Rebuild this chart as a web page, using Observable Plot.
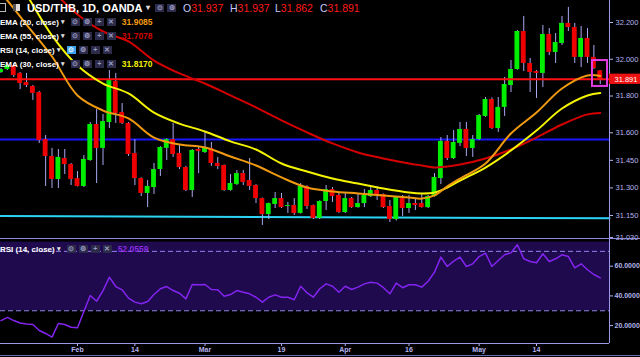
<!DOCTYPE html>
<html><head><meta charset="utf-8">
<script src="https://cdn.jsdelivr.net/npm/d3@7"></script>
<script src="https://cdn.jsdelivr.net/npm/@observablehq/plot@0.6"></script>
<style>
html,body{margin:0;padding:0;background:#000;}
#wrap{position:relative;width:640px;height:357px;overflow:hidden;background:#000;font-family:"Liberation Sans",Arial,sans-serif;}
#main,#rsi{position:absolute;left:0;}
#main{top:0;}#rsi{top:238px;}
#main svg{overflow:visible;}
#rsi text{font-weight:bold;}
.hl{position:absolute;left:0;width:640px;height:1px;background:#8c8cdc;}
.row{position:absolute;left:0;display:flex;align-items:center;height:10px;white-space:nowrap;color:#fff;font-size:8px;font-weight:bold;}
.car{margin-left:2px;font-size:7px;color:#ddd;}
.ic{display:inline-block;width:9px;height:8px;background:#2c2c4a;color:#9a9ac0;font-size:7px;line-height:8px;text-align:center;margin-left:3px;font-weight:bold;}
.ic.first{margin-left:6px;}
.ic.on{background:#3aa0f0;color:#fff;}
.val{margin-left:6px;font-weight:bold;font-size:8.5px;}
.t{position:absolute;top:1px;height:13px;display:flex;align-items:center;white-space:nowrap;font-size:10.5px;}
</style></head>
<body>
<div id="wrap">
  <div id="main"></div>
  <div id="rsi"></div>
  <div class="hl" style="top:238px"></div>
  <div class="hl" style="top:355px;background:#6a6ab0"></div>

  <div class="t" style="left:0;"><span style="display:inline-block;width:5px;height:7px;border:1px solid #bbb;border-left:none;"></span></div>
  <div class="t" style="left:13px;"><span style="display:inline-block;width:7px;height:7px;background:#ddd;border-left:3px solid #555;box-sizing:border-box;"></span></div>
  <div class="t" style="left:27px;color:#fff;font-weight:bold;font-size:11px;">USD/THB, 1D, OANDA<span class="car" style="font-size:8px;margin-left:3px">▾</span></div>
  <div class="t" style="left:155px;"><span class="ic" style="margin-left:0">⊙</span><span class="ic">⚙</span></div>
  <div class="t" style="left:183px;"><span style="color:#c8c8ff">O</span><span style="color:#ff1a1a">31.937</span></div>
  <div class="t" style="left:230px;"><span style="color:#c8c8ff">H</span><span style="color:#ff1a1a">31.937</span></div>
  <div class="t" style="left:275px;"><span style="color:#c8c8ff">L</span><span style="color:#ff1a1a">31.862</span></div>
  <div class="t" style="left:320px;"><span style="color:#c8c8ff">C</span><span style="color:#ff1a1a">31.891</span></div>

  <div class="row" style="top:17px">EMA (20, close)<span class="car">▾</span><span class="ic first">⊙</span><span class="ic">⚙</span><span class="ic">+</span><span class="ic">✕</span><span class="val" style="color:#f49c10">31.9085</span></div>
  <div class="row" style="top:31px">EMA (55, close)<span class="car">▾</span><span class="ic first">⊙</span><span class="ic">⚙</span><span class="ic">+</span><span class="ic">✕</span><span class="val" style="color:#d00000">31.7078</span></div>
  <div class="row" style="top:45px">RSI (14, close)<span class="car">▾</span><span class="ic first on">⊙</span><span class="ic">⚙</span><span class="ic">+</span><span class="ic">✕</span></div>
  <div class="row" style="top:59px">EMA (30, close)<span class="car">▾</span><span class="ic first">⊙</span><span class="ic">⚙</span><span class="ic">+</span><span class="ic">✕</span><span class="val" style="color:#f0f000">31.8170</span></div>

  <div class="row" style="top:244px">RSI (14, close)<span class="car">▾</span><span class="ic first">⊙</span><span class="ic">⚙</span><span class="ic">+</span><span class="ic">✕</span><span class="val" style="color:#8a2be2">52.0559</span></div>
</div>
<script>
// ---- data (trading-day index 0 = 16 Jan 2018 ... 94 = 28 May 2018) ----
const open  = [31.928,31.944,31.966,31.923,31.874,31.852,31.819,31.563,31.471,31.346,31.460,31.427,31.351,31.308,31.449,31.645,31.515,31.656,31.879,31.710,31.651,31.487,31.351,31.270,31.302,31.400,31.515,31.563,31.487,31.411,31.286,31.509,31.493,31.515,31.433,31.422,31.286,31.319,31.378,31.340,31.313,31.242,31.155,31.210,31.242,31.199,31.204,31.161,31.308,31.204,31.134,31.226,31.291,31.259,31.166,31.242,31.193,31.215,31.253,31.286,31.264,31.199,31.128,31.242,31.188,31.215,31.215,31.193,31.253,31.351,31.553,31.460,31.542,31.618,31.515,31.563,31.689,31.781,31.623,31.738,31.857,31.944,32.151,31.977,31.933,31.923,32.135,32.037,32.086,32.195,32.173,32.010,32.113,32.010,31.937];
const high  = [31.950,31.972,31.977,31.928,31.923,31.857,31.825,31.585,31.515,31.509,31.509,31.433,31.389,31.476,31.656,31.727,31.700,31.939,31.923,31.759,31.656,31.563,31.355,31.340,31.433,31.525,31.568,31.651,31.531,31.417,31.509,31.520,31.602,31.547,31.466,31.425,31.373,31.395,31.395,31.460,31.318,31.245,31.218,31.275,31.270,31.221,31.242,31.324,31.312,31.207,31.230,31.313,31.302,31.270,31.270,31.248,31.270,31.291,31.302,31.308,31.267,31.232,31.252,31.259,31.259,31.242,31.270,31.259,31.378,31.574,31.585,31.612,31.656,31.656,31.585,31.700,31.792,31.790,31.792,31.901,31.993,32.156,32.233,32.004,31.939,32.184,32.167,32.140,32.233,32.282,32.195,32.178,32.167,32.075,31.937];
const low   = [31.923,31.939,31.901,31.835,31.846,31.776,31.542,31.308,31.297,31.297,31.373,31.313,31.305,31.302,31.445,31.324,31.422,31.623,31.651,31.645,31.471,31.313,31.253,31.193,31.264,31.362,31.449,31.466,31.400,31.280,31.248,31.378,31.487,31.417,31.400,31.281,31.282,31.313,31.313,31.286,31.215,31.096,31.128,31.188,31.188,31.161,31.150,31.158,31.183,31.128,31.128,31.177,31.221,31.161,31.161,31.188,31.190,31.193,31.248,31.232,31.188,31.112,31.120,31.145,31.161,31.177,31.190,31.188,31.250,31.318,31.449,31.455,31.525,31.471,31.466,31.558,31.684,31.618,31.602,31.689,31.819,31.940,31.933,31.819,31.787,31.846,32.020,31.977,32.075,32.151,31.977,31.955,31.977,31.944,31.862];
const close = [31.944,31.966,31.912,31.868,31.857,31.814,31.558,31.471,31.346,31.466,31.427,31.346,31.308,31.455,31.645,31.515,31.661,31.885,31.705,31.651,31.482,31.351,31.270,31.308,31.400,31.520,31.563,31.482,31.411,31.286,31.504,31.498,31.515,31.433,31.417,31.286,31.324,31.378,31.330,31.308,31.242,31.155,31.215,31.242,31.193,31.204,31.161,31.308,31.199,31.134,31.226,31.291,31.253,31.166,31.242,31.193,31.215,31.259,31.286,31.259,31.193,31.128,31.248,31.188,31.215,31.204,31.193,31.253,31.357,31.553,31.460,31.547,31.618,31.515,31.563,31.694,31.781,31.623,31.738,31.863,31.944,32.151,31.977,31.928,31.923,32.135,32.037,32.091,32.195,32.173,32.010,32.113,32.010,31.950,31.891];

const emaIdx = [0,4,8,12,16,20,24,28,32,36,40,44,48,52,56,60,64,66,68,70,72,76,80,84,88,92,94];
const ema20  = [32.363,32.189,32.015,31.803,31.721,31.678,31.574,31.536,31.520,31.471,31.422,31.357,31.302,31.281,31.270,31.259,31.248,31.242,31.259,31.308,31.351,31.433,31.596,31.710,31.841,31.912,31.909];
const ema30  = [32.565,32.352,32.129,31.966,31.868,31.814,31.710,31.650,31.607,31.553,31.509,31.433,31.389,31.351,31.324,31.297,31.275,31.270,31.275,31.302,31.340,31.411,31.504,31.612,31.732,31.803,31.817];
const ema55  = [32.630,32.510,32.374,32.244,32.151,32.097,31.993,31.923,31.868,31.803,31.738,31.667,31.602,31.542,31.493,31.460,31.433,31.422,31.411,31.417,31.427,31.460,31.509,31.574,31.645,31.700,31.708];

const rsi = [23.4,25.5,23.4,21.8,21.1,20.7,16.7,14.7,12.2,21.4,20.7,18.9,18.5,29.5,40.3,36.4,43.6,52.6,46.3,44.1,38.5,35.8,34.7,36.2,40.9,44.8,46.3,43.6,41.8,38.0,47.7,47.5,47.7,44.3,44.1,39.8,40.9,43.6,42.5,41.4,39.1,35.8,39.1,40.7,39.1,39.1,37.4,46.5,42.1,39.1,44.8,48.1,46.5,42.5,46.5,44.3,45.9,48.1,49.2,48.6,45.5,41.4,48.6,45.5,47.5,47.5,45.9,49.9,56.0,66.1,59.8,63.4,66.1,59.8,61.6,66.5,68.8,59.8,63.8,67.7,69.0,74.4,65.0,63.2,62.3,68.4,63.2,65.0,67.7,66.5,58.9,61.6,57.6,54.4,52.1];

const blueLevel = 31.563;          // horizontal line
const cyanLevels = [31.147, 31.135]; // support line, left/right end
const priceTicks = [32.2, 32.0, 31.8, 31.6, 31.45, 31.3, 31.15, 31.03];
const rsiTicks = [20, 40, 60];
const rsiBands = [70, 30];
const tickIdx = [12, 21, 32, 44, 54, 64, 75, 84];
const tickLabels = ["Feb", "14", "Mar", "19", "Apr", "16", "May", "14"];

// ---- build ----
const candles = open.map((o, i) => ({i, o, h: high[i], l: low[i], c: close[i]}));
const last = candles[candles.length - 1];
const xDomain = [-0.08, 95.45];
const mk = arr => emaIdx.map((i, k) => ({i, v: arr[k]}));
const axisCol = "#b4b4ee";

const main = Plot.plot({
  width: 640, height: 238, marginTop: 0, marginBottom: 0, marginLeft: 0, marginRight: 31,
  style: {background: "transparent", color: axisCol, fontFamily: "Liberation Sans, Arial, sans-serif", fontSize: "7.5px"},
  x: {domain: xDomain, axis: null},
  y: {domain: [31.0248, 32.3197], axis: "right", ticks: priceTicks, tickFormat: d3.format(".3f"), tickSize: 3, tickPadding: 3, label: null},
  marks: [
    Plot.ruleY([blueLevel], {stroke: "#1818ff", strokeWidth: 2}),
    Plot.line([{i: xDomain[0], v: cyanLevels[0]}, {i: xDomain[1], v: cyanLevels[1]}], {x: "i", y: "v", stroke: "#2cd4f4", strokeWidth: 2}),
    Plot.ruleX(candles, {x: "i", y1: "l", y2: "h", stroke: "#a8a8f0", strokeWidth: 1}),
    Plot.rect(candles, {x1: d => d.i - 0.38, x2: d => d.i + 0.38, y1: "o", y2: "c", fill: d => d.c >= d.o ? "#00ee00" : "#ee0000"}),
    Plot.ruleY([last.c], {stroke: "#ff1010", strokeWidth: 2}),
    Plot.line(mk(ema55), {x: "i", y: "v", stroke: "#d40000", strokeWidth: 2, curve: "catmull-rom", clip: true}),
    Plot.line(mk(ema30), {x: "i", y: "v", stroke: "#f4f400", strokeWidth: 2, curve: "catmull-rom", clip: true}),
    Plot.line(mk(ema20), {x: "i", y: "v", stroke: "#f09a10", strokeWidth: 2, curve: "catmull-rom", clip: true}),
    Plot.rect([last], {x1: d => d.i - 1.22, x2: d => d.i + 1.14, y1: d => d.l - 0.01, y2: d => d.h + 0.056, fill: "none", stroke: "#e23ce2", strokeWidth: 2}),
    Plot.ruleX([xDomain[1]], {stroke: "#9a9ae6", strokeWidth: 1}),
    Plot.rect([last], {x1: xDomain[1], x2: xDomain[1] + 5, y1: d => d.c - 0.028, y2: d => d.c + 0.028, fill: "#ee1111"}),
    Plot.text([last], {x: xDomain[1], y: "c", text: d => d3.format(".3f")(d.c), dx: 5, textAnchor: "start", fill: "#fff", fontSize: 7.5})
  ]
});
document.getElementById("main").appendChild(main);

const rsiChart = Plot.plot({
  width: 640, height: 119, marginTop: 0, marginBottom: 14, marginLeft: 0, marginRight: 31,
  style: {background: "transparent", color: axisCol, fontFamily: "Liberation Sans, Arial, sans-serif", fontSize: "7px"},
  x: {domain: xDomain, ticks: tickIdx, tickFormat: d => tickLabels[tickIdx.indexOf(d)], tickSize: 3, tickPadding: 1, label: null},
  y: {domain: [7.95, 78.65], axis: "right", ticks: rsiTicks, tickFormat: d => d.toFixed(4), tickSize: 3, tickPadding: 2, label: null},
  marks: [
    Plot.rect([{}], {x1: xDomain[0], x2: xDomain[1], y1: rsiBands[1], y2: 76.2, fill: "#1e0a4c"}),
    Plot.ruleY(rsiBands, {stroke: "#9484f0", strokeWidth: 1, strokeDasharray: "5,3"}),
    Plot.line(rsi, {x: (d, i) => i, y: d => d, stroke: "#8424f0", strokeWidth: 1.5}),
    Plot.ruleY([7.95], {stroke: "#9a9ae6", strokeWidth: 1}),
    Plot.ruleX([xDomain[1]], {stroke: "#9a9ae6", strokeWidth: 1})
  ]
});
document.getElementById("rsi").appendChild(rsiChart);
</script>
</body></html>
